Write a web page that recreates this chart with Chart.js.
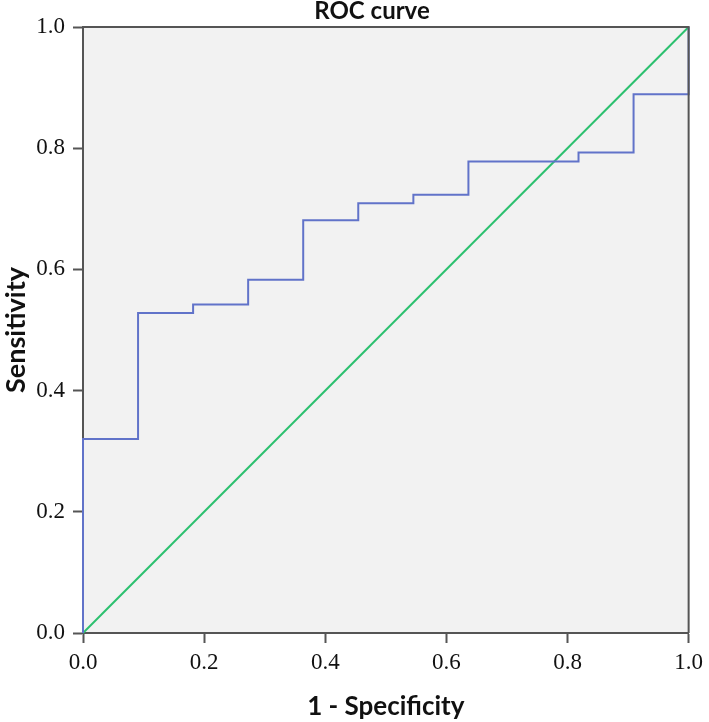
<!DOCTYPE html>
<html lang="en">
<head>
    <meta charset="UTF-8">
    <title>ROC curve</title>
    <script src="https://cdn.jsdelivr.net/npm/chart.js"></script>
    <style>
        html, body { margin: 0; padding: 0; background: #fff; }
        #wrap { width: 709px; height: 722px; }
    </style>
</head>
<body>
    <div id="wrap"><canvas id="rocChart"></canvas></div>

    <script>
        // ROC coordinates (1 - specificity, sensitivity)
        const fpr = [0, 0, 0.0909, 0.0909, 0.1818, 0.1818, 0.2727, 0.2727, 0.3636, 0.3636,
                     0.4545, 0.4545, 0.5455, 0.5455, 0.6364, 0.6364, 0.8182, 0.8182,
                     0.9091, 0.9091, 1, 1];
        const tpr = [0, 0.32, 0.32, 0.528, 0.528, 0.542, 0.542, 0.583, 0.583, 0.681,
                     0.681, 0.709, 0.709, 0.723, 0.723, 0.778, 0.778, 0.793,
                     0.793, 0.889, 0.889, 1.0];
        // reference line
        const refX = [0, 1];
        const refY = [0, 1];
        const axisTicks = [0, 0.2, 0.4, 0.6, 0.8, 1.0];

        const toPoints = (xs, ys) => xs.map((x, i) => ({ x: x, y: ys[i] }));

        // grey plot background, frame and title
        const plotFrame = {
            id: "plotFrame",
            beforeDraw(chart) {
                const { ctx, chartArea: a } = chart;
                ctx.save();
                ctx.fillStyle = "#f2f2f2";
                ctx.fillRect(a.left, a.top, a.right - a.left, a.bottom - a.top);
                ctx.restore();
            },
            afterDraw(chart) {
                const { ctx, chartArea: a } = chart;
                ctx.save();
                ctx.strokeStyle = "#555";
                ctx.lineWidth = 2;
                ctx.beginPath();
                ctx.moveTo(a.left, a.top);
                ctx.lineTo(a.right, a.top);
                ctx.lineTo(a.right, a.bottom);
                ctx.stroke();
                ctx.fillStyle = "#111";
                ctx.font = "bold 24px Lato";
                ctx.textAlign = "center";
                ctx.textBaseline = "middle";
                ctx.fillText("ROC curve", 372, 11);
                ctx.restore();
            }
        };

        const tickFont = { family: "'Liberation Serif'", size: 23 };

        new Chart(document.getElementById("rocChart"), {
            type: "scatter",
            data: {
                datasets: [{
                    label: "ROC",
                    data: toPoints(fpr, tpr),
                    showLine: true,
                    borderColor: "#6173c9",
                    borderWidth: 2,
                    pointRadius: 0,
                    clip: 4
                }, {
                    label: "Reference",
                    data: toPoints(refX, refY),
                    showLine: true,
                    borderColor: "#2cc06f",
                    borderWidth: 2,
                    pointRadius: 0,
                    clip: 4
                }]
            },
            options: {
                responsive: true,
                maintainAspectRatio: false,
                animation: false,
                layout: { padding: { top: 27, right: 18, left: 0, bottom: 0 } },
                plugins: {
                    legend: { display: false },
                    tooltip: { enabled: false }
                },
                scales: {
                    x: {
                        type: "linear",
                        min: 0, max: 1,
                        afterBuildTicks: s => { s.ticks = axisTicks.map(v => ({ value: v })); },
                        afterFit: s => { s.height = 89; },
                        ticks: {
                            color: "#111",
                            font: tickFont,
                            padding: 6,
                            maxRotation: 0,
                            callback: v => v.toFixed(1)
                        },
                        grid: { drawOnChartArea: false, tickLength: 10, tickWidth: 2, tickColor: "#555" },
                        border: { color: "#555", width: 2 },
                        title: {
                            display: true,
                            text: "1 - Specificity",
                            color: "#111",
                            font: { family: "Lato", size: 26, weight: "bold" },
                            padding: { top: 8, bottom: 0 }
                        }
                    },
                    y: {
                        type: "linear",
                        min: 0, max: 1,
                        afterBuildTicks: s => { s.ticks = axisTicks.map(v => ({ value: v })); },
                        afterFit: s => { s.width = 83; },
                        ticks: {
                            color: "#111",
                            font: tickFont,
                            padding: 8,
                            callback: v => v.toFixed(1)
                        },
                        grid: { drawOnChartArea: false, tickLength: 10, tickWidth: 2, tickColor: "#555" },
                        border: { color: "#555", width: 2 },
                        title: {
                            display: true,
                            text: "Sensitivity",
                            color: "#111",
                            font: { family: "Lato", size: 27, weight: "bold" },
                            padding: { top: 0, bottom: 0 }
                        }
                    }
                }
            },
            plugins: [plotFrame]
        });
    </script>
</body>
</html>
